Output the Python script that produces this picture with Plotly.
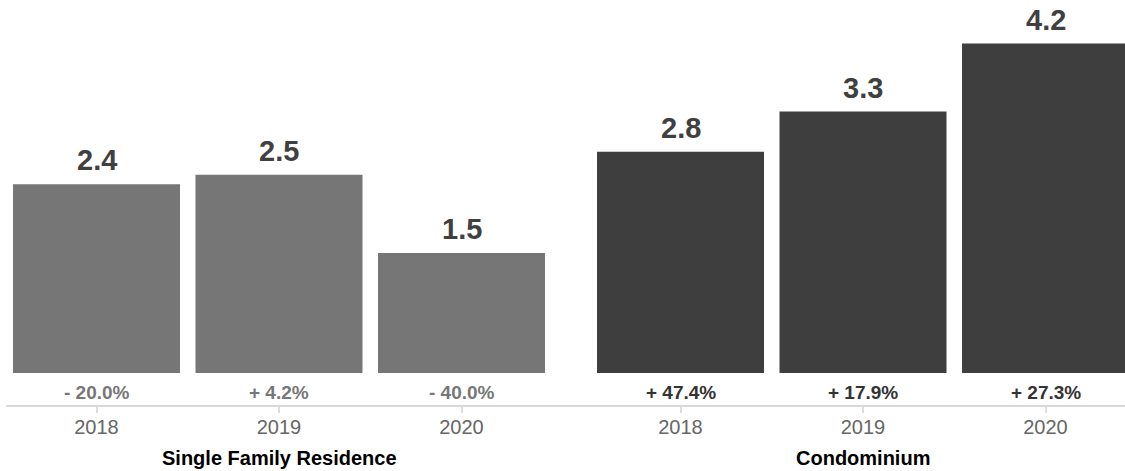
import plotly.graph_objects as go

# ---- data ----
groups = ["Single Family Residence", "Condominium"]
years = ["2018", "2019", "2020"]
sfr_values = [2.39, 2.51, 1.52]
condo_values = [2.80, 3.31, 4.17]
sfr_changes = ["- 20.0%", "+ 4.2%", "- 40.0%"]
condo_changes = ["+ 47.4%", "+ 17.9%", "+ 27.3%"]

# ---- positions (category slots, with a gap between groups) ----
sfr_x = [0, 1, 2]
condo_x = [3.2, 4.2, 5.2]
group_centers = [1, 4.2]

FONT = "Liberation Sans, Arial, Helvetica, sans-serif"
SFR_COLOR = "#767676"
CONDO_COLOR = "#3e3e3e"
BAR_W = 0.915

fig = go.Figure()
fig.add_trace(go.Bar(x=sfr_x, y=sfr_values, width=BAR_W, marker_color=SFR_COLOR,
                     marker_line_width=0, hoverinfo="skip"))
fig.add_trace(go.Bar(x=condo_x, y=condo_values, width=BAR_W, marker_color=CONDO_COLOR,
                     marker_line_width=0, hoverinfo="skip"))

annotations = []
for xs, vals, chg, ccol in [(sfr_x, sfr_values, sfr_changes, "#777777"),
                            (condo_x, condo_values, condo_changes, "#333333")]:
    for x, v, c in zip(xs, vals, chg):
        annotations.append(dict(x=x, y=v, xref="x", yref="y", text=f"{v:.1f}",
                                showarrow=False, yanchor="middle", yshift=24,
                                font=dict(family=FONT, size=29, color="#404040", weight="bold")))
        annotations.append(dict(x=x, y=0, xref="x", yref="y", text=c,
                                showarrow=False, yanchor="middle", yshift=-19,
                                font=dict(family=FONT, size=19, color=ccol, weight="bold")))
for g, gx in zip(groups, group_centers):
    annotations.append(dict(x=gx, y=0, xref="x", yref="paper", text=g,
                            showarrow=False, yanchor="middle", yshift=-53,
                            font=dict(family=FONT, size=20, color="#000000", weight="bold")))

fig.update_layout(
    width=1125, height=471,
    margin=dict(l=6, r=0, t=0, b=66),
    paper_bgcolor="white", plot_bgcolor="white",
    showlegend=False,
    barmode="overlay",
    annotations=annotations,
    xaxis=dict(range=[-0.4959, 5.6356], tickvals=sfr_x + condo_x, ticktext=years + years,
               showgrid=False, zeroline=False, showline=True, linecolor="#d9d9d9", linewidth=1.5,
               ticks="outside", ticklen=6, tickcolor="#dddddd", tickwidth=1.5,
               ticklabelstandoff=-3,
               tickfont=dict(family=FONT, size=20, color="#666666")),
    yaxis=dict(range=[-0.405, 4.722], visible=False, showgrid=False, zeroline=False),
)

fig.write_html("out.html", config={"displayModeBar": False},
               post_script="document.body.style.margin='0px';")
